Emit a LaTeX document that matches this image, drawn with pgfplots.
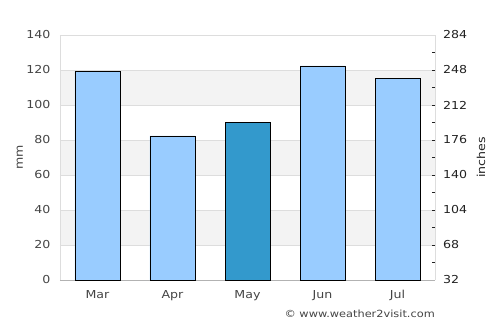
\documentclass[border=0pt]{standalone}
\usepackage{pgfplots}
\pgfplotsset{compat=1.18}
\usepackage{fontspec}
\setmainfont[FakeStretch=1.15]{DejaVu Sans}
\definecolor{lightbar}{HTML}{99CCFF}
\definecolor{darkbar}{HTML}{3399CC}
\definecolor{band}{HTML}{F3F3F3}
\definecolor{gridc}{HTML}{DDDDDD}
\definecolor{txt}{HTML}{444444}
\definecolor{txtd}{HTML}{222222}
\begin{document}
\begin{tikzpicture}
\path[use as bounding box] (-60bp,-45bp) rectangle (440bp,280bp);
\begin{axis}[
  scale only axis, width=375bp, height=245bp,
  xmin=-0.5, xmax=4.5, ymin=0, ymax=140,
  axis x line*=bottom, axis y line*=left,
  axis line style={draw=none},
  xtick={0,1,2,3,4},
  xticklabels={Mar,Apr,May,Jun,Jul},
  ytick={0,20,...,140},
  major tick length=0,
  tick label style={font=\fontsize{11}{13}\selectfont, text=txt},
  /pgf/number format/assume math mode=true,
  yticklabel style={xshift=-6bp},
  xticklabel style={yshift=-7bp},
  ylabel={mm},
  every axis y label/.style={at={(axis description cs:-0.107,0.5)}, rotate=90, anchor=center, font=\fontsize{11}{13}\selectfont, text=txt},
  clip=false,
]
\fill[band] (axis cs:-0.5,20) rectangle (axis cs:4.5,40);
\fill[band] (axis cs:-0.5,60) rectangle (axis cs:4.5,80);
\fill[band] (axis cs:-0.5,100) rectangle (axis cs:4.5,120);
\foreach \g in {20,40,60,80,100,120,140}{
  \edef\tmp{\noexpand\draw[gridc, line width=0.8bp] (axis cs:-0.5,\g) -- (axis cs:4.5,\g);}\tmp
}
\draw[gridc, line width=0.8bp] (axis cs:-0.5,0) -- (axis cs:-0.5,140);
\draw[gridc, line width=0.8bp] (axis cs:4.5,0) -- (axis cs:4.5,140);
\draw[black!30, line width=0.8bp] (axis cs:-0.5,0) -- (axis cs:4.5,0);
\addplot[ybar, bar width=45bp, fill=lightbar, draw=black, line width=0.8bp, forget plot]
  coordinates {(0,119.4) (1,82.3) (3,122.3) (4,115.4)};
\addplot[ybar, bar width=45bp, fill=darkbar, draw=black, line width=0.8bp, forget plot]
  coordinates {(2,90.3)};
\node[anchor=base east, font=\fontsize{9.9}{12}\selectfont, text=txt, inner sep=0pt] at (axis description cs:1,0) [yshift=-37bp] {© www.weather2visit.com};
\end{axis}
\begin{axis}[
  scale only axis, width=375bp, height=245bp,
  xmin=-0.5, xmax=4.5, ymin=0, ymax=140,
  axis x line=none,
  axis y line*=right,
  y axis line style={draw=none},
  ytick={0,20,...,140},
  yticklabels={32,68,104,140,176,212,248,284},
  minor ytick={10,20,...,130},
  major tick length=0,
  minor tick length=3.5bp,
  tick align=inside,
  minor tick style={draw=txtd, line width=0.8bp},
  tick label style={font=\fontsize{11}{13}\selectfont, text=txtd},
  /pgf/number format/assume math mode=true,
  yticklabel style={xshift=4.5bp},
  ylabel={inches},
  every axis y label/.style={at={(axis description cs:1.1227,0.5)}, rotate=90, anchor=center, font=\fontsize{11}{13}\selectfont, text=txtd},
]
\end{axis}
\end{tikzpicture}
\end{document}
